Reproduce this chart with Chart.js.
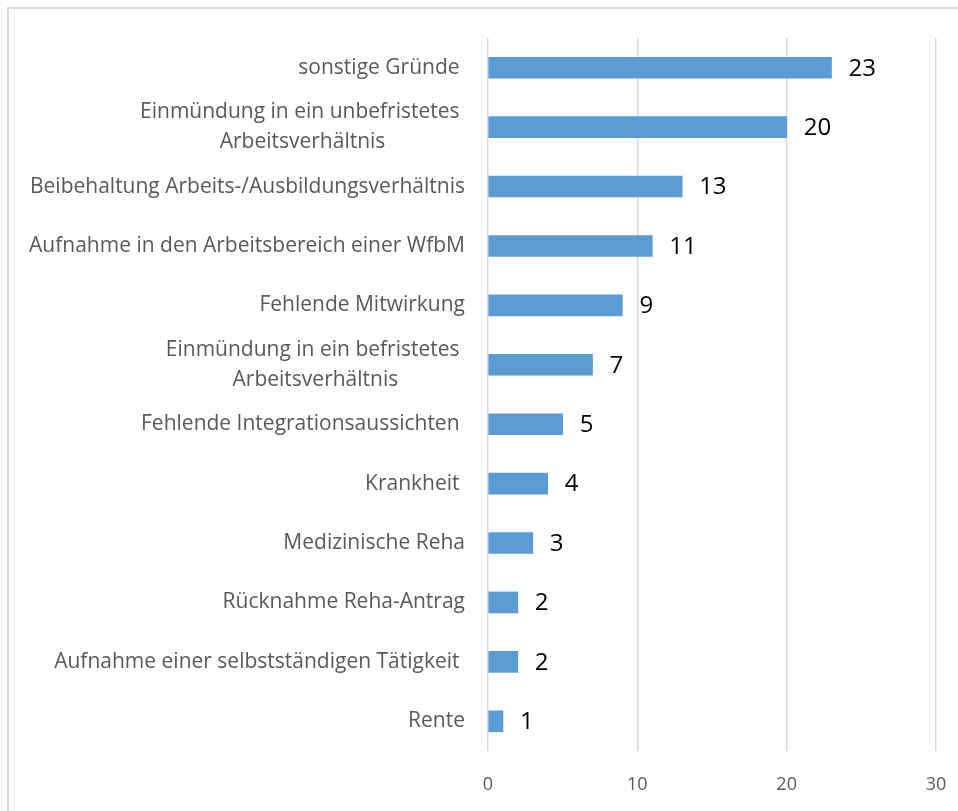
<!DOCTYPE html>
<html>
<head>
<meta charset="utf-8">
<script src="https://cdn.jsdelivr.net/npm/chart.js@4"></script>
<style>
    html, body { margin: 0; padding: 0; background: #ffffff; overflow: hidden; }
    #frame {
        position: absolute; left: 7px; top: 7px; width: 1000px; height: 900px;
        border: 2px solid #d9d9d9; box-sizing: border-box;
    }
    #wrap { position: absolute; left: 0; top: 0; width: 958px; height: 811px; }
</style>
</head>
<body>
<div id="frame"></div>
<div id="wrap"><canvas id="chart"></canvas></div>
<script>
// categories, top to bottom
const categories = [
    "sonstige Gründe ",
    ["Einmündung in ein unbefristetes ", "Arbeitsverhältnis"],
    "Beibehaltung Arbeits-/Ausbildungsverhältnis",
    "Aufnahme in den Arbeitsbereich einer WfbM",
    "Fehlende Mitwirkung",
    ["Einmündung in ein befristetes ", "Arbeitsverhältnis"],
    "Fehlende Integrationsaussichten ",
    "Krankheit ",
    "Medizinische Reha",
    "Rücknahme Reha-Antrag",
    "Aufnahme einer selbstständigen Tätigkeit ",
    "Rente"
];
const values = [23, 20, 13, 11, 9, 7, 5, 4, 3, 2, 2, 1];
const xTicks = [0, 10, 20, 30];

const FONT = "'Open Sans', 'Liberation Sans', sans-serif";

// category labels: single lines right aligned, wrapped lines centred on each other
const categoryLabels = {
    id: "categoryLabels",
    afterDraw(chart) {
        const ctx = chart.ctx;
        const yScale = chart.scales.y;
        const right = 465;
        const lineH = 30;
        ctx.save();
        ctx.font = `21px ${FONT}`;
        ctx.fillStyle = "#595959";
        ctx.textBaseline = "middle";
        categories.forEach((label, i) => {
            const y = yScale.getPixelForValue(i);
            const lines = Array.isArray(label) ? label : [label];
            const blockW = Math.max(...lines.map((l) => ctx.measureText(l).width));
            const cx = right - blockW / 2;
            ctx.textAlign = "center";
            lines.forEach((line, j) => {
                const ly = y + (j - (lines.length - 1) / 2) * lineH;
                ctx.fillText(line, cx, ly);
            });
        });
        ctx.restore();
    }
};

const valueLabels = {
    id: "valueLabels",
    afterDatasetsDraw(chart) {
        const ctx = chart.ctx;
        const meta = chart.getDatasetMeta(0);
        ctx.save();
        ctx.font = `24px ${FONT}`;
        ctx.fillStyle = "#000000";
        ctx.textAlign = "left";
        ctx.textBaseline = "middle";
        meta.data.forEach((bar, i) => {
            ctx.fillText(String(values[i]), bar.x + 17, bar.y + 1);
        });
        ctx.restore();
    }
};

new Chart(document.getElementById("chart"), {
    type: "bar",
    data: {
        labels: categories,
        datasets: [{
            data: values,
            backgroundColor: "#5b9bd5",
            borderWidth: 0,
            barThickness: 21
        }]
    },
    options: {
        indexAxis: "y",
        responsive: true,
        maintainAspectRatio: false,
        animation: false,
        layout: { padding: { top: 38, right: 22, bottom: 0, left: 0 } },
        plugins: {
            legend: { display: false },
            tooltip: { enabled: false }
        },
        scales: {
            x: {
                min: xTicks[0],
                max: xTicks[xTicks.length - 1],
                afterBuildTicks: (scale) => {
                    scale.ticks = xTicks.map((v) => ({ value: v }));
                },
                afterFit: (scale) => {
                    scale.height = 60;
                    scale.paddingLeft = 0;
                    scale.paddingRight = 0;
                },
                grid: { color: "#d9d9d9", lineWidth: 1.5, drawTicks: false },
                border: { display: false },
                ticks: {
                    color: "#595959",
                    font: { family: FONT, size: 18 },
                    padding: 23
                }
            },
            y: {
                afterFit: (scale) => { scale.width = 488; },
                grid: { display: false },
                border: { display: false },
                ticks: { display: false }
            }
        }
    },
    plugins: [categoryLabels, valueLabels]
});
</script>
</body>
</html>
